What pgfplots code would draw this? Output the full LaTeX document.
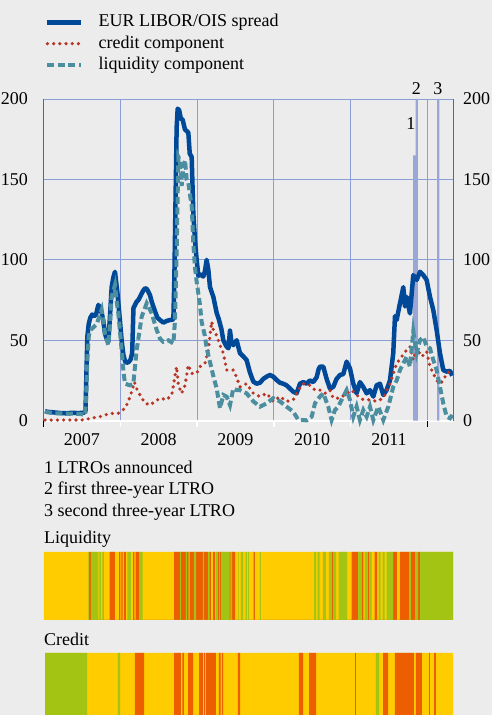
\documentclass[border=0pt]{standalone}
\usepackage{fontspec}
\setmainfont{Liberation Serif}
\usepackage{pgfplots}
\pgfplotsset{compat=1.18}

\definecolor{bg}{RGB}{236,236,236}
\definecolor{gridc}{RGB}{140,158,216}
\definecolor{ltro}{RGB}{154,166,214}
\definecolor{spread}{RGB}{0,72,152}
\definecolor{liq}{RGB}{74,142,160}
\definecolor{cred}{RGB}{184,52,36}
\definecolor{sy}{RGB}{255,204,0}
\definecolor{so}{RGB}{236,94,0}
\definecolor{sg}{RGB}{164,196,20}

% x is months since January 2007
\pgfplotsset{
  frame/.style={scale only axis, width=409.4pt, xmin=0, xmax=64.01,
    anchor=south west},
  strip/.style={frame, ymin=0, ymax=1, hide axis},
  band/.style={const plot mark left, draw=none, fill=#1},
}
\newcommand\fsz{\fontsize{18}{21.6}\selectfont}

\begin{document}
\begin{tikzpicture}
\fill[bg] (0,0) rectangle (492pt,715pt);

\begin{axis}[frame, at={(43.6pt,294.3pt)}, height=321.7pt,
  ymin=0, ymax=200, ytick={0,50,...,200},
  axis x line*=bottom, axis y line*=left,
  x axis line style={white, line width=2pt},
  y axis line style={black!60, line width=1pt},
  xtick={0,12,...,60}, xticklabels={2007,2008,2009,2010,2011},
  x tick label as interval,
  tick align=outside, major tick length=6pt,
  xtick style={white, line width=1.5pt},
  ytick style={draw=none},
  extra x ticks={0,60}, extra x tick labels={},
  extra x tick style={grid=none, x tick label as interval=false,
    xtick style={black, line width=1.2pt}},
  grid=major, major grid style={gridc, line width=0.8pt},
  /pgf/number format/assume math mode=true,
  tick label style={font=\fsz},
  yticklabel style={inner sep=0pt, xshift=-9.6pt},
  xticklabel style={inner sep=0pt, anchor=north, yshift=-7pt},
  clip=false,
  legend style={at={(axis description cs:0.0034,1.2652)}, anchor=north west,
    draw=none, fill=none, inner sep=0pt, font=\fsz, row sep=4.3pt,
    column sep=15pt, nodes={inner sep=0pt, text height=13pt, text depth=4pt}},
  legend cell align=left,
  legend image code/.code={\draw[#1] (0pt,0pt) -- (34pt,0pt);},
]
\addplot[band=ltro, forget plot] coordinates {(57.76,165)(58.15,200)(58.51,0)(61.51,200)(61.87,0)} \closedcycle;

\addplot[spread, line width=4.5pt, line join=round] coordinates {
(0.22,6)(0.6,5.5)(1.5,5.2)(2.5,4.8)(3.5,4.6)(4.5,4.9)(5.5,4.7)(6.3,5)(6.55,6)(6.7,30)(6.84,52)(7.05,60)(7.3,64)(7.6,66)(7.9,65)(8.2,66)(8.56,72)(8.8,70)(9.08,67)(9.34,62)(9.6,54)(9.86,51)(10.12,49)(10.38,65)(10.64,83)(10.9,89)(11.16,92.6)(11.35,86)(11.53,80)(11.94,62)(12.2,50)(12.47,41)(12.73,37)(12.99,36)(13.3,36.5)(13.6,38)(13.85,42)(14.05,70)(14.3,72)(14.55,74)(14.81,75)(15.07,77)(15.59,81)(15.85,82.3)(16.12,82)(16.4,80)(16.64,78)(16.9,74)(17.42,68)(17.8,64)(18.2,62.6)(18.72,61)(19.24,62)(19.76,62.6)(20.29,63)(20.45,90)(20.6,130)(20.8,182)(20.96,194)(21.2,193)(21.45,188)(21.75,187)(22.1,181)(22.4,180)(22.63,179)(22.85,166)(23.15,164)(23.41,129)(23.67,112)(23.93,100)(24.2,90)(24.45,91)(24.97,89.6)(25.23,93)(25.49,100)(25.75,94)(26.02,83)(26.54,77)(27.06,67)(27.4,63)(27.8,57)(28.1,50)(28.62,46)(28.9,45)(29.14,56)(29.4,48)(29.66,47)(30.18,50)(30.7,42)(31.22,40)(31.74,37.7)(32.26,30)(32.79,24.3)(33.31,23)(33.83,23.6)(34.35,26)(34.87,27.4)(35.39,28.4)(35.91,27.4)(36.43,25.3)(36.95,23.6)(37.47,23)(37.99,22)(38.51,20)(39.04,18)(39.56,17)(40.08,23)(40.6,24)(41.12,23)(41.64,25)(42.16,24)(42.69,27)(43.0,32)(43.21,33.6)(43.73,33.6)(44.25,26)(44.77,20)(45.29,21)(45.81,26)(46.34,28.4)(46.86,29)(47.38,36.7)(47.9,32.5)(48.42,23)(48.94,17)(49.46,24)(49.98,21)(50.51,17)(51.03,19)(51.55,15)(52.07,22)(52.59,23)(53.11,16)(53.63,19)(54.15,25)(54.67,42)(54.94,65)(55.2,62.6)(55.72,73)(56.24,83)(56.5,71)(56.76,77)(57.28,66.7)(57.8,90.5)(58.33,87.5)(58.85,92.6)(59.37,90.5)(59.89,87.5)(60.41,77)(60.93,68.8)(61.45,56.4)(61.97,42)(62.49,31.5)(63.01,30.5)(63.54,31)(63.9,28)};
\addlegendentry{EUR LIBOR/OIS spread}

\addplot[cred, line width=3.6pt, line cap=round, dash pattern=on 0pt off 6.2pt] coordinates {
(0.22,0.4)(3,0.4)(6.5,0.5)(7.25,1.5)(8.82,2.5)(10.38,4.5)(11.68,4.6)(12.73,7.7)(13.25,12)(13.77,18)(14.2,24)(14.55,20)(15.07,16)(15.85,11)(16.64,9.7)(17.42,12)(18.2,14)(19.24,13)(20.03,16)(20.3,22)(20.55,28)(20.8,33.6)(21.07,22)(21.59,17)(22.11,22)(22.63,34.6)(23.15,29.4)(23.93,29.4)(24.45,33.6)(25.23,35.6)(25.75,44)(26.28,61.6)(26.54,56.4)(27.06,53)(27.58,47)(28.1,42)(28.62,31.5)(29.66,31.5)(30.18,27)(30.7,21)(31.74,23)(32.79,17)(33.83,15)(34.87,17)(35.91,12)(36.95,15)(37.99,12)(39.04,13)(39.82,19)(40.6,23)(41.64,22)(42.43,19)(43.21,19)(43.99,17)(44.77,19)(45.29,14)(46.34,14)(47.38,17)(48.16,19)(48.94,16)(49.98,13)(51.03,13)(52.07,12)(53.11,14)(54.15,23)(55.2,35.6)(55.98,39.8)(56.76,44)(57.28,46)(57.8,37.7)(58.33,45)(59.11,39.8)(59.89,43)(60.41,33.6)(60.93,29.4)(61.45,25)(61.97,23)(62.49,25)(63.01,29.4)(63.54,30.5)(63.9,29.4)};
\addlegendentry{credit component}

\addplot[liq, line width=4pt, dash pattern=on 7pt off 3.5pt] coordinates {
(0.22,5.6)(1,5)(2,4.6)(3,4.5)(4,4.3)(5,4.4)(6,4)(6.5,3.5)(6.7,20)(6.84,38)(7.05,52)(7.25,56)(7.77,58)(8.3,60)(8.56,63)(9.08,69)(9.34,62)(9.6,54)(10.12,47)(10.38,60)(10.64,77)(11.16,84.4)(11.4,75)(11.68,66.7)(12.2,44)(12.5,30)(12.73,23)(13.51,22)(14.03,23)(14.55,44)(15.33,64.6)(16.12,73)(16.9,66.7)(17.68,56.4)(18.2,51)(18.72,49)(19.5,50)(20.29,48)(20.55,62.6)(20.8,104)(20.96,140)(21.07,164)(21.3,162)(21.59,146)(21.85,158)(22.11,162)(22.37,150)(22.63,148)(22.9,140)(23.15,134)(23.41,110)(23.67,95)(23.93,86.5)(24.45,72)(24.7,61.6)(25.2,53)(25.5,45)(26,36.7)(26.5,28.4)(27.06,20)(27.58,7.7)(28.1,16)(28.62,15)(29.14,9.7)(29.66,20)(30.2,19)(30.7,19)(31.74,17)(32.79,12)(33.83,8.7)(34.87,10.8)(35.91,14)(36.95,12)(37.99,8.7)(39.04,5.6)(39.82,0.5)(40.6,0.4)(41.12,0.2)(41.91,2.5)(42.43,10.8)(43.21,15)(43.73,17)(44.51,8.7)(45.03,0.4)(45.55,6.6)(46.07,8.7)(46.86,15)(47.38,19)(47.9,12.9)(48.42,2.5)(48.94,8.7)(49.46,0.4)(49.98,6.6)(50.51,2.5)(51.03,8.7)(51.55,0.4)(52.33,8.7)(53.11,0.4)(53.89,8.7)(54.67,21)(55.2,25)(55.72,31.5)(56.24,35.6)(56.76,39.8)(57.28,33.6)(57.8,55.4)(58.33,42)(58.85,50)(59.37,52)(59.89,46)(60.41,45)(60.93,37.7)(61.45,31.5)(61.97,21)(62.49,10.8)(63.01,2.5)(63.54,1.5)(63.9,3.5)};
\addlegendentry{liquidity component}

\node[anchor=base, font=\fsz, inner sep=0pt] at (axis cs:57.44,181.3) {1};
\node[anchor=base, font=\fsz, inner sep=0pt] at (axis cs:58.30,202.5) {2};
\node[anchor=base, font=\fsz, inner sep=0pt] at (axis cs:61.66,202.5) {3};
\end{axis}

% right-hand scale
\begin{axis}[frame, at={(43.6pt,294.3pt)}, height=321.7pt,
  ymin=0, ymax=200, ytick={0,50,...,200},
  axis y line*=right, axis x line=none,
  y axis line style={black!60, line width=1pt},
  ytick style={draw=none},
  /pgf/number format/assume math mode=true,
  tick label style={font=\fsz},
  yticklabel style={inner sep=0pt, xshift=10pt},
]
\end{axis}

% liquidity strip
\begin{axis}[strip, at={(43.6pt,95pt)}, height=68pt]
\addplot[band=sy] coordinates {(0.06,1)(64.01,0)} \closedcycle;
\addplot[band=so] coordinates {(7.10,1)(7.41,0)(10.33,1)(11.16,0)(11.79,1)(11.99,0)(12.15,1)(12.37,0)(12.57,1)(12.88,0)(13.98,1)(14.18,0)(14.40,1)(14.92,0)(20.39,1)(21.33,0)(21.48,1)(22.26,0)(22.42,1)(22.69,0)(22.84,1)(23.51,0)(23.83,1)(24.92,0)(25.08,1)(25.70,0)(25.91,1)(26.17,0)(26.49,1)(26.80,0)(27.22,1)(27.42,0)(27.58,1)(27.74,0)(29.03,1)(29.25,0)(29.46,1)(29.93,0)(32.90,1)(33.05,0)(45.04,1)(45.25,0)(48.17,1)(49.16,0)(49.78,1)(49.98,0)(50.67,1)(50.88,0)(51.77,1)(52.13,0)(54.63,1)(55.25,0)(55.72,1)(57.13,0)(57.44,1)(58.07,0)(58.54,1)(58.85,0)} \closedcycle;
\addplot[band=sg] coordinates {(6.99,1)(7.10,0)(7.41,1)(8.55,0)(8.71,1)(8.97,0)(9.18,1)(9.44,0)(13.09,1)(13.66,0)(14.92,1)(15.49,0)(21.33,1)(21.48,0)(22.26,1)(22.42,0)(22.69,1)(22.84,0)(23.51,1)(23.83,0)(24.92,1)(25.08,0)(25.70,1)(25.91,0)(26.95,1)(27.22,0)(27.42,1)(27.58,0)(27.74,1)(29.03,0)(29.25,1)(29.46,0)(30.44,1)(30.55,0)(30.86,1)(31.18,0)(31.60,1)(31.80,0)(31.96,1)(32.11,0)(32.74,1)(32.90,0)(33.83,1)(33.99,0)(42.28,1)(42.59,0)(42.86,1)(43.17,0)(43.68,1)(44.15,0)(44.62,1)(45.04,0)(45.25,1)(45.72,0)(46.14,1)(47.44,0)(49.16,1)(49.78,0)(50.20,1)(50.67,0)(50.88,1)(51.30,0)(52.39,1)(52.71,0)(53.02,1)(53.33,0)(53.64,1)(54.63,0)(57.13,1)(57.44,0)(58.07,1)(58.54,0)(58.85,1)(64.01,0)} \closedcycle;
\end{axis}

% credit strip
\begin{axis}[strip, at={(43.6pt,0pt)}, height=62pt]
\addplot[band=sy] coordinates {(0.22,1)(64.01,0)} \closedcycle;
\addplot[band=so] coordinates {(14.29,1)(15.70,0)(20.39,1)(21.48,0)(21.69,1)(21.95,0)(22.58,1)(23.36,0)(24.30,1)(24.92,0)(25.08,1)(25.23,0)(25.39,1)(26.95,0)(27.42,1)(27.69,0)(27.89,1)(28.05,0)(30.39,1)(30.71,0)(39.93,1)(40.56,0)(41.50,1)(42.59,0)(48.69,1)(48.84,0)(53.07,1)(53.85,0)(54.94,1)(57.91,0)(58.22,1)(59.16,0)(60.26,1)(60.41,0)(61.04,1)(61.35,0)} \closedcycle;
\addplot[band=sg] coordinates {(0.22,1)(6.79,0)(11.63,1)(11.95,0)(51.97,1)(52.44,0)} \closedcycle;
\end{axis}

\begin{scope}[every node/.style={anchor=base west, inner sep=0pt, font=\fsz}]
\node at (44pt,241.7pt) {1 LTROs announced};
\node at (44pt,220pt) {2 first three-year LTRO};
\node at (44pt,198.3pt) {3 second three-year LTRO};
\node at (44pt,171.7pt) {Liquidity};
\node at (44pt,69pt) {Credit};
\end{scope}

\pgfresetboundingbox
\useasboundingbox (0,0) rectangle (492pt,715pt);
\end{tikzpicture}
\end{document}
